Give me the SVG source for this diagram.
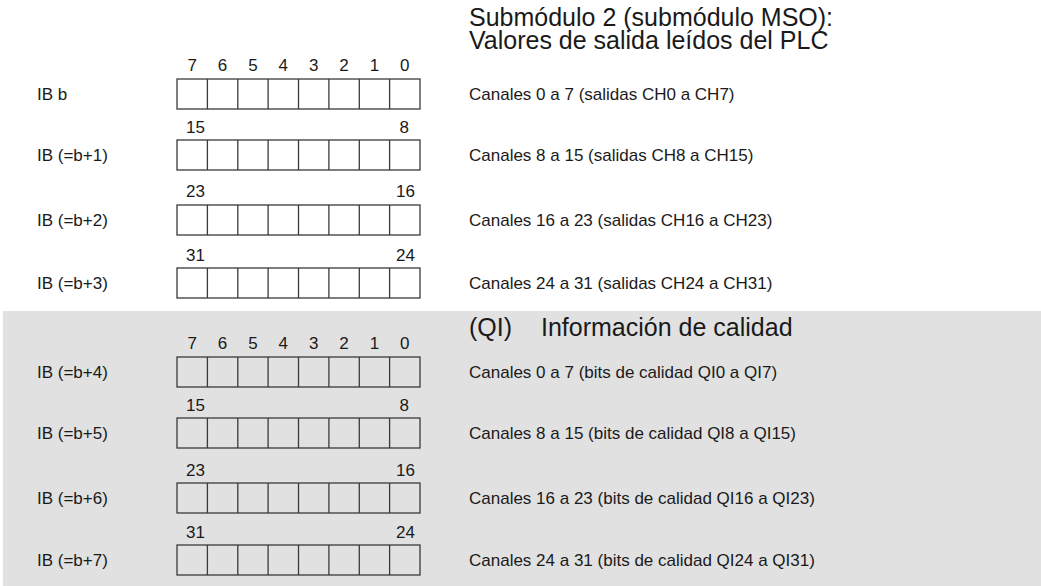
<svg xmlns="http://www.w3.org/2000/svg" width="1041" height="586" viewBox="0 0 1041 586">
<defs>
<style>
text{font-family:"Liberation Sans",Arial,sans-serif;fill:#1a1a1a}
.t{font-size:17px}
.h{font-size:25px}
.q{font-size:25px}
.n{font-size:17px}
.c{fill:none;stroke:#3a3a3a;stroke-width:1.3}
</style>
<g id="cells">
<rect class="c" x="0" y="0" width="243" height="30"/>
<line class="c" x1="30.4" y1="0" x2="30.4" y2="30"/>
<line class="c" x1="60.8" y1="0" x2="60.8" y2="30"/>
<line class="c" x1="91.1" y1="0" x2="91.1" y2="30"/>
<line class="c" x1="121.5" y1="0" x2="121.5" y2="30"/>
<line class="c" x1="151.9" y1="0" x2="151.9" y2="30"/>
<line class="c" x1="182.3" y1="0" x2="182.3" y2="30"/>
<line class="c" x1="212.6" y1="0" x2="212.6" y2="30"/>
</g>
</defs>
<rect id="bg" x="0" y="0" width="1041" height="586" fill="#ffffff"/>
<rect id="qi-bg" x="3" y="311" width="1038" height="275" fill="#e1e1e1"/>

<g id="title">
<text class="h" x="469" y="26">Submódulo 2 (submódulo MSO):</text>
<text class="h" x="469" y="49">Valores de salida leídos del PLC</text>
</g>

<g id="bits-top" text-anchor="middle">
<text class="n" x="192.2" y="71">7</text><text class="n" x="222.6" y="71">6</text><text class="n" x="253" y="71">5</text><text class="n" x="283.3" y="71">4</text><text class="n" x="313.7" y="71">3</text><text class="n" x="344.1" y="71">2</text><text class="n" x="374.5" y="71">1</text><text class="n" x="404.8" y="71">0</text>
</g>

<g id="row-b">
<text class="t" x="37" y="100">IB b</text>
<use href="#cells" x="177" y="79"/>
<text class="t" x="469" y="100">Canales 0 a 7 (salidas CH0 a CH7)</text>
</g>
<g id="row-b1">
<text class="n" x="186" y="133">15</text><text class="n" x="409" y="133" text-anchor="end">8</text>
<text class="t" x="37" y="161">IB (=b+1)</text>
<use href="#cells" x="177" y="140"/>
<text class="t" x="469" y="161">Canales 8 a 15 (salidas CH8 a CH15)</text>
</g>
<g id="row-b2">
<text class="n" x="186" y="197">23</text><text class="n" x="415" y="197" text-anchor="end">16</text>
<text class="t" x="37" y="226">IB (=b+2)</text>
<use href="#cells" x="177" y="205"/>
<text class="t" x="469" y="226">Canales 16 a 23 (salidas CH16 a CH23)</text>
</g>
<g id="row-b3">
<text class="n" x="186" y="261">31</text><text class="n" x="415" y="261" text-anchor="end">24</text>
<text class="t" x="37" y="289">IB (=b+3)</text>
<use href="#cells" x="177" y="268"/>
<text class="t" x="469" y="289">Canales 24 a 31 (salidas CH24 a CH31)</text>
</g>

<g id="qi-title">
<text class="q" x="469" y="336">(QI)</text>
<text class="q" x="541" y="336">Información de calidad</text>
</g>
<g id="bits-qi" text-anchor="middle">
<text class="n" x="192.2" y="349">7</text><text class="n" x="222.6" y="349">6</text><text class="n" x="253" y="349">5</text><text class="n" x="283.3" y="349">4</text><text class="n" x="313.7" y="349">3</text><text class="n" x="344.1" y="349">2</text><text class="n" x="374.5" y="349">1</text><text class="n" x="404.8" y="349">0</text>
</g>
<g id="row-b4">
<text class="t" x="37" y="378">IB (=b+4)</text>
<use href="#cells" x="177" y="357"/>
<text class="t" x="469" y="378">Canales 0 a 7 (bits de calidad QI0 a QI7)</text>
</g>
<g id="row-b5">
<text class="n" x="186" y="411">15</text><text class="n" x="409" y="411" text-anchor="end">8</text>
<text class="t" x="37" y="439">IB (=b+5)</text>
<use href="#cells" x="177" y="418"/>
<text class="t" x="469" y="439">Canales 8 a 15 (bits de calidad QI8 a QI15)</text>
</g>
<g id="row-b6">
<text class="n" x="186" y="476">23</text><text class="n" x="415" y="476" text-anchor="end">16</text>
<text class="t" x="37" y="504">IB (=b+6)</text>
<use href="#cells" x="177" y="483"/>
<text class="t" x="469" y="504">Canales 16 a 23 (bits de calidad QI16 a QI23)</text>
</g>
<g id="row-b7">
<text class="n" x="186" y="538">31</text><text class="n" x="415" y="538" text-anchor="end">24</text>
<text class="t" x="37" y="566">IB (=b+7)</text>
<use href="#cells" x="177" y="545"/>
<text class="t" x="469" y="566">Canales 24 a 31 (bits de calidad QI24 a QI31)</text>
</g>
</svg>
